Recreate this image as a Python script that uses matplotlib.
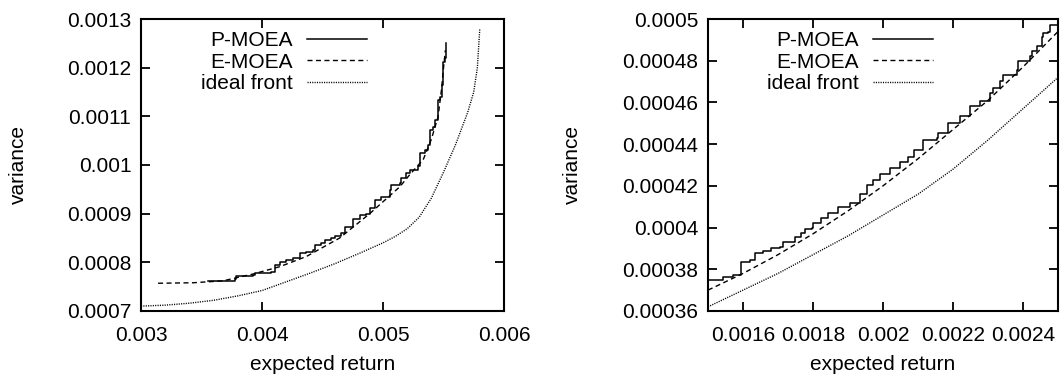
import matplotlib.pyplot as plt
import numpy as np

plt.rcParams['font.family'] = ['Liberation Sans', 'DejaVu Sans']

# left panel: full range of the fronts
p_x1 = [0.003554, 0.003774, 0.003788, 0.003926, 0.00394, 0.004078, 0.004105, 0.004146,
        0.004202, 0.004256, 0.004312, 0.004367, 0.004421, 0.004436, 0.00449, 0.004518,
        0.004574, 0.004600, 0.004656, 0.004683, 0.004752, 0.004807, 0.004863, 0.00489,
        0.004931, 0.004987, 0.005055, 0.005069, 0.005138, 0.005152, 0.005193, 0.005221,
        0.00529, 0.005303, 0.005345, 0.005372, 0.005386, 0.005413, 0.005427, 0.005455,
        0.005469, 0.005491, 0.005496, 0.00551, 0.005518]
p_y1 = [0.000762, 0.000765, 0.000772, 0.000774, 0.000779, 0.000781, 0.000795, 0.000801,
        0.000805, 0.000808, 0.000819, 0.000822, 0.000825, 0.000836, 0.00084, 0.000846,
        0.000851, 0.000854, 0.00086, 0.000873, 0.00089, 0.000897, 0.0009, 0.000911,
        0.000928, 0.000935, 0.000949, 0.000959, 0.000962, 0.000973, 0.000983, 0.00099,
        0.000997, 0.001024, 0.001031, 0.001041, 0.001072, 0.001079, 0.001092, 0.001134,
        0.00114, 0.001164, 0.001212, 0.001219, 0.00125]

e_x1 = [0.003141, 0.00343, 0.003678, 0.003926, 0.004146, 0.004367, 0.004642, 0.00489,
        0.005138, 0.005221, 0.005303, 0.005331, 0.0054, 0.005455, 0.005483, 0.005504, 0.005516]
e_y1 = [0.000757, 0.000758, 0.000762, 0.000776, 0.000791, 0.000812, 0.000850, 0.0009,
        0.000955, 0.000980, 0.001003, 0.00101, 0.001053, 0.001099, 0.001154, 0.001209, 0.001236]

i_x1 = [0.0030, 0.0032, 0.0034, 0.0036, 0.0038, 0.0040, 0.0042, 0.0044, 0.0046, 0.0048,
        0.0050, 0.0051, 0.0052, 0.0053, 0.0054, 0.0055, 0.0056, 0.0057, 0.00575, 0.00578,
        0.0058]
i_y1 = [0.000710, 0.000712, 0.000716, 0.000722, 0.000731, 0.000742, 0.000760, 0.000778,
        0.000797, 0.000818, 0.000840, 0.000853, 0.000869, 0.000893, 0.000932, 0.000985,
        0.001042, 0.001108, 0.00115, 0.00120, 0.00128]

# right panel: zoom on the middle part
p_x2 = [0.0015, 0.001543, 0.001571, 0.001595, 0.001619, 0.001634, 0.001657, 0.001681,
        0.001705, 0.001714, 0.001748, 0.001767, 0.001777, 0.001796, 0.0018, 0.001824,
        0.001843, 0.001872, 0.001905, 0.001934, 0.001953, 0.001972, 0.001991, 0.00202,
        0.002048, 0.002072, 0.002089, 0.002115, 0.002153, 0.002158, 0.002186, 0.00222,
        0.002248, 0.002277, 0.002305, 0.002315, 0.002334, 0.002344, 0.002382, 0.002387,
        0.00242, 0.002425, 0.002439, 0.002453, 0.002458, 0.002472, 0.002477, 0.0025]
p_y2 = [0.000375, 0.0003765, 0.0003773, 0.0003836, 0.0003845, 0.0003877, 0.0003889, 0.00039,
        0.0003908, 0.0003932, 0.0003956, 0.0003972, 0.0003992, 0.0003996, 0.0004023, 0.0004044,
        0.0004068, 0.00041, 0.0004116, 0.0004160, 0.0004204, 0.0004228, 0.0004257, 0.0004284,
        0.0004316, 0.000434, 0.0004372, 0.000442, 0.0004428, 0.0004455, 0.000450, 0.0004535,
        0.0004581, 0.0004605, 0.0004645, 0.0004669, 0.0004701, 0.0004733, 0.0004757, 0.0004797,
        0.0004821, 0.0004845, 0.0004869, 0.0004912, 0.0004933, 0.0004938, 0.0004973, 0.000498]

e_x2 = [0.0015, 0.0016, 0.0017, 0.0018, 0.0019, 0.0020, 0.0021, 0.0022, 0.0023, 0.0024, 0.0025]
e_y2 = [0.000370, 0.000378, 0.000387, 0.000397, 0.000408, 0.000420, 0.000433, 0.000447,
        0.000461, 0.000477, 0.000494]

i_x2 = [0.0015, 0.0016, 0.0017, 0.0018, 0.0019, 0.0020, 0.0021, 0.0022, 0.0023, 0.0024, 0.0025]
i_y2 = [0.000362, 0.000370, 0.000378, 0.000387, 0.000396, 0.000406, 0.000416, 0.000428,
        0.000442, 0.000457, 0.000472]

xt1 = [0.003, 0.004, 0.005, 0.006]
yt1 = [0.0007, 0.0008, 0.0009, 0.001, 0.0011, 0.0012, 0.0013]
xt2 = [0.0016, 0.0018, 0.002, 0.0022, 0.0024]
yt2 = [0.00036, 0.00038, 0.0004, 0.00042, 0.00044, 0.00046, 0.00048, 0.0005]

fig = plt.figure(figsize=(10.61, 3.77), dpi=100)
ax1 = fig.add_axes([0.1329, 0.1751, 0.3421, 0.7745])
ax2 = fig.add_axes([0.6673, 0.1751, 0.3299, 0.7745])


def draw(ax, px, py, ex, ey, ix, iy, xlim, ylim, xt, yt, ylab_x, leg_x):
    ax.plot(px, py, color='black', lw=1.1, drawstyle='steps-post', label='P-MOEA')
    ax.plot(ex, ey, color='black', lw=1.0, dashes=(3.6, 2.5), label='E-MOEA')
    ax.plot(ix, iy, color='black', lw=1.0, dashes=(0.8, 0.9), label='ideal front')
    ax.set_xlim(xlim)
    ax.set_ylim(ylim)
    ax.set_xticks(xt)
    ax.set_yticks(yt)
    ax.set_xticklabels(['%g' % round(v, 6) for v in xt])
    ax.set_yticklabels(['%g' % round(v, 7) for v in yt])
    ax.tick_params(direction='in', length=6.5, width=1.3, top=True, right=True,
                   labelsize=15, pad=7)
    ax.tick_params(axis='x', pad=11)
    for s in ax.spines.values():
        s.set_linewidth(1.5)
    ax.set_xlabel('expected return', fontsize=15)
    ax.set_ylabel('variance', fontsize=15)
    ax.xaxis.set_label_coords(0.5, -0.183)
    ax.yaxis.set_label_coords(ylab_x, 0.5)
    ax.xaxis.label.set_va('center')
    ax.yaxis.label.set_va('center')
    ax.legend(loc='upper right', bbox_to_anchor=(leg_x, 0.958), frameon=False,
              markerfirst=False, fontsize=15, handlelength=2.9, handletextpad=0.65,
              labelspacing=0.12, borderpad=0, borderaxespad=0, alignment='right')


draw(ax1, p_x1, p_y1, e_x1, e_y1, i_x1, i_y1, (0.003, 0.006), (0.0007, 0.0013),
     xt1, yt1, -0.337, 0.623)
draw(ax2, p_x2, p_y2, e_x2, e_y2, i_x2, i_y2, (0.0015, 0.0025), (0.00036, 0.0005),
     xt2, yt2, -0.386, 0.643)

fig.savefig('out.png', dpi=100)
